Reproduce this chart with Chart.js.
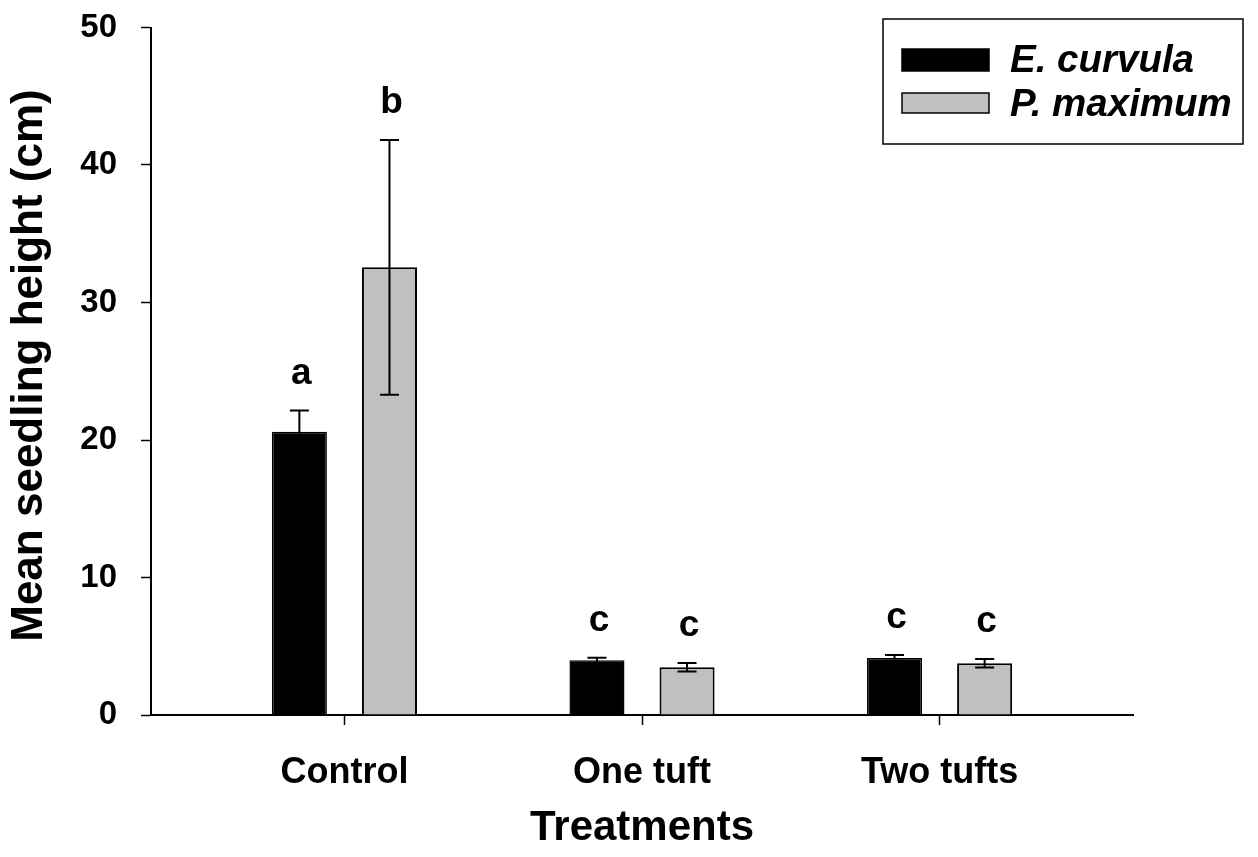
<!DOCTYPE html>
<html>
<head>
<meta charset="utf-8">
<title>Mean seedling height by treatment</title>
<script src="https://cdn.jsdelivr.net/npm/chart.js@4"></script>
<style>
  html, body { margin: 0; padding: 0; background: #ffffff; }
  #wrap { width: 1258px; height: 857px; }
</style>
</head>
<body>
<div id="wrap"><canvas id="chart" width="1258" height="857"></canvas></div>
<script>
// Treatments on the x axis
const categories = ['Control', 'One tuft', 'Two tufts'];

// Mean seedling height (cm) and standard error per species
const curvulaMeans = [20.6, 3.98, 4.15];
const curvulaSE    = [1.55, 0.19, 0.21];
const maximumMeans = [32.56, 3.47, 3.76];
const maximumSE    = [9.26, 0.31, 0.31];

// Significance letters above each bar
const curvulaLetters = ['a', 'c', 'c'];
const maximumLetters = ['b', 'c', 'c'];

// y axis ticks
const yTicks = [0, 10, 20, 30, 40, 50];

const FONT = '"Liberation Sans", Arial, Helvetica, sans-serif';
const Y_TITLE = 'Mean seedling height (cm)';

const toPoints = (vals) => vals.map((v, i) => ({ x: i, y: v }));

// Error bars with caps and the letter labels above them
const errorBarPlugin = {
  id: 'errorBars',
  afterDatasetsDraw(chart) {
    const ctx = chart.ctx;
    const yScale = chart.scales.y;
    chart.data.datasets.forEach((ds, di) => {
      const meta = chart.getDatasetMeta(di);
      meta.data.forEach((bar, i) => {
        const mean = ds.means[i];
        const se = ds.errors[i];
        const x = bar.x;
        const yHi = yScale.getPixelForValue(mean + se);
        const yLo = yScale.getPixelForValue(mean - se);
        ctx.save();
        ctx.strokeStyle = '#000';
        ctx.lineWidth = 2;
        ctx.beginPath();
        ctx.moveTo(x, yLo); ctx.lineTo(x, yHi);
        ctx.moveTo(x - 9.5, yHi); ctx.lineTo(x + 9.5, yHi);
        ctx.moveTo(x - 9.5, yLo); ctx.lineTo(x + 9.5, yLo);
        ctx.stroke();
        ctx.fillStyle = '#000';
        ctx.font = 'bold 37px ' + FONT;
        ctx.textAlign = 'center';
        ctx.textBaseline = 'middle';
        ctx.fillText(ds.letters[i], x + 2, yHi - 37);
        ctx.restore();
      });
    });
  }
};

// Boxed legend in the upper right, plus the rotated y axis title
const boxLegendPlugin = {
  id: 'boxLegend',
  afterDraw(chart) {
    const ctx = chart.ctx;
    ctx.save();
    ctx.strokeStyle = '#000';
    ctx.lineWidth = 1.5;
    ctx.strokeRect(883, 19, 360, 125);
    const rows = [{ y: 49, h: 22, ty: 61 }, { y: 93, h: 20, ty: 105 }];
    chart.data.datasets.forEach((ds, i) => {
      const r = rows[i];
      ctx.fillStyle = ds.backgroundColor;
      ctx.fillRect(902, r.y, 87, r.h);
      ctx.lineWidth = 1.5;
      ctx.strokeStyle = '#000';
      ctx.strokeRect(902, r.y, 87, r.h);
      ctx.fillStyle = '#000';
      ctx.font = 'italic bold 38.5px ' + FONT;
      ctx.textAlign = 'left';
      ctx.textBaseline = 'middle';
      ctx.fillText(ds.label, 1010, r.ty);
    });

    ctx.translate(30, 365.5);
    ctx.rotate(-Math.PI / 2);
    ctx.fillStyle = '#000';
    ctx.font = 'bold 44px ' + FONT;
    ctx.textAlign = 'center';
    ctx.textBaseline = 'middle';
    ctx.fillText(Y_TITLE, 0, 0);
    ctx.restore();
  }
};

new Chart(document.getElementById('chart'), {
  type: 'bar',
  data: {
    datasets: [
      {
        label: 'E. curvula',
        data: toPoints(curvulaMeans),
        means: curvulaMeans,
        errors: curvulaSE,
        letters: curvulaLetters,
        backgroundColor: '#000000',
        borderColor: '#000000',
        borderWidth: 1.5,
        categoryPercentage: 0.6056,
        barPercentage: 0.611
      },
      {
        label: 'P. maximum',
        data: toPoints(maximumMeans),
        means: maximumMeans,
        errors: maximumSE,
        letters: maximumLetters,
        backgroundColor: '#c0c0c0',
        borderColor: '#000000',
        borderWidth: 2,
        categoryPercentage: 0.6056,
        barPercentage: 0.611
      }
    ]
  },
  options: {
    responsive: false,
    animation: false,
    layout: { padding: { top: 27.5, right: 125, left: 0, bottom: 0 } },
    plugins: {
      legend: { display: false },
      tooltip: { enabled: false }
    },
    scales: {
      x: {
        type: 'linear',
        min: -0.65,
        max: 2.65,
        offset: false,
        afterBuildTicks(scale) {
          scale.ticks = categories.map((_, i) => ({ value: i }));
        },
        afterFit(scale) {
          scale.height = 142;
          scale.paddingLeft = 0;
          scale.paddingRight = 0;
        },
        ticks: {
          autoSkip: false,
          maxRotation: 0,
          padding: 26,
          color: '#000',
          font: { family: FONT, size: 36, weight: 'bold' },
          callback: (v) => categories[v]
        },
        grid: {
          offset: false,
          drawOnChartArea: false,
          drawTicks: true,
          tickLength: 10,
          tickColor: '#000',
          tickWidth: 1.5
        },
        border: { display: true, color: '#000', width: 2 },
        title: {
          display: true,
          text: 'Treatments',
          color: '#000',
          padding: { top: 0, bottom: 3 },
          font: { family: FONT, size: 42, weight: 'bold' }
        }
      },
      y: {
        min: 0,
        max: 50,
        afterBuildTicks(scale) {
          scale.ticks = yTicks.map((v) => ({ value: v }));
        },
        afterFit(scale) {
          scale.width = 151;
          scale.paddingTop = 0;
          scale.paddingBottom = 0;
        },
        ticks: {
          padding: 24,
          color: '#000',
          font: { family: FONT, size: 33, weight: 'bold' }
        },
        grid: {
          drawOnChartArea: false,
          drawTicks: true,
          tickLength: 10,
          tickColor: '#000',
          tickWidth: 1.5
        },
        border: { display: true, color: '#000', width: 2 }
      }
    }
  },
  plugins: [errorBarPlugin, boxLegendPlugin]
});
</script>
</body>
</html>
